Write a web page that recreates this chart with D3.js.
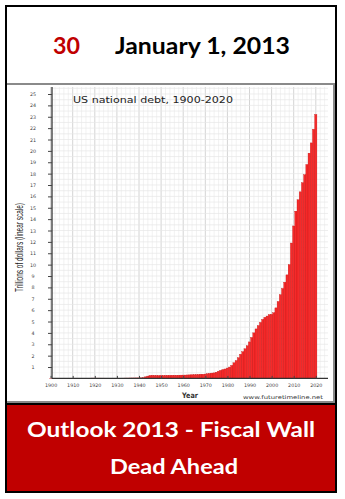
<!DOCTYPE html>
<html><head><meta charset="utf-8">
<script src="https://cdn.jsdelivr.net/npm/d3@7"></script>
<style>html,body{margin:0;padding:0;background:#fff;}svg{display:block;}</style>
</head><body>
<script>
// ---- data ----
const years = [
 1900,1901,1902,1903,1904,1905,1906,1907,1908,1909,
 1910,1911,1912,1913,1914,1915,1916,1917,1918,1919,
 1920,1921,1922,1923,1924,1925,1926,1927,1928,1929,
 1930,1931,1932,1933,1934,1935,1936,1937,1938,1939,
 1940,1941,1942,1943,1944,1945,1946,1947,1948,1949,
 1950,1951,1952,1953,1954,1955,1956,1957,1958,1959,
 1960,1961,1962,1963,1964,1965,1966,1967,1968,1969,
 1970,1971,1972,1973,1974,1975,1976,1977,1978,1979,
 1980,1981,1982,1983,1984,1985,1986,1987,1988,1989,
 1990,1991,1992,1993,1994,1995,1996,1997,1998,1999,
 2000,2001,2002,2003,2004,2005,2006,2007,2008,2009,
 2010,2011,2012,2013,2014,2015,2016,2017,2018,2019,2020];
// US national debt, trillions of dollars
const debt = [
 0.0021,0.0021,0.0022,0.0022,0.0023,0.0023,0.0023,0.0025,0.0026,0.0026,
 0.0027,0.0028,0.0028,0.0029,0.0029,0.0031,0.0036,0.0057,0.0146,0.0274,
 0.0259,0.0239,0.0229,0.0223,0.0212,0.0205,0.0196,0.0185,0.0176,0.0169,
 0.0161,0.0168,0.0194,0.0225,0.027,0.0287,0.0338,0.0364,0.0372,0.0404,
 0.043,0.049,0.0724,0.1367,0.201,0.2587,0.2694,0.2583,0.2523,0.2528,
 0.2574,0.2552,0.259,0.2661,0.2711,0.2743,0.2726,0.2721,0.2798,0.2875,
 0.2906,0.2929,0.3029,0.3101,0.3166,0.3222,0.3284,0.3403,0.3681,0.3656,
 0.3807,0.4081,0.4357,0.4663,0.4839,0.5419,0.6287,0.7063,0.7767,0.8293,
 0.9091,0.9949,1.137,1.372,1.565,1.817,2.121,2.346,2.601,2.868,
 3.206,3.598,4.002,4.351,4.643,4.921,5.181,5.369,5.478,5.606,
 5.629,5.770,6.198,6.760,7.355,7.905,8.451,9.1,10.0,11.9,
 13.4,14.7,15.7,16.4,17.2,17.9,18.8,19.8,20.7,21.9,23.2];
const yTicks = [1,2,3,4,5,6,7,8,9,10,11,12,13,14,15,16,17,18,19,20,21,22,23,24,25];
const xTicks = [1900,1910,1920,1930,1940,1950,1960,1970,1980,1990,2000,2010,2020];
const dayNumber = "30";
const dateText = "January 1, 2013";
const chartTitle = "US national debt, 1900-2020";
const yTitle = "Trillions of dollars (linear scale)";
const xTitle = "Year";
const sourceText = "www.futuretimeline.net";
const footer1 = "Outlook 2013 - Fiscal Wall";
const footer2 = "Dead Ahead";

// ---- drawing ----
const W = 345, H = 499;
const svg = d3.select("body").append("svg").attr("width", W).attr("height", H);
svg.append("rect").attr("width", W).attr("height", H).attr("fill", "#fff");

const x = d3.scaleLinear().domain([1900, 2020]).range([50.6, 315.8]);
const y = d3.scaleLinear().domain([0, 25]).range([378.4, 94]);
const plotL = 52, plotR = 328, plotT = 87, plotB = y(0);

// chart frame (gray)
svg.append("path").attr("d", `M7,84H335M334,84V402M7,402H335`)
  .attr("stroke", "#8a8a8a").attr("stroke-width", 2).attr("fill", "none");

// grid
const g = svg.append("g");
const minorX = d3.range(1900, 2026, 2);
g.selectAll("line.vx").data(minorX).join("line")
  .attr("x1", d => x(d)).attr("x2", d => x(d)).attr("y1", plotT).attr("y2", plotB)
  .attr("stroke", d => d % 10 === 0 ? "#d4d4d4" : "#ececec").attr("stroke-width", d => d % 10 === 0 ? 1 : 0.7);
const minorY = d3.range(0.5, 25.6, 0.5);
g.selectAll("line.hy").data(minorY).join("line")
  .attr("x1", plotL).attr("x2", plotR).attr("y1", d => y(d)).attr("y2", d => y(d))
  .attr("stroke", "#e6e6e6").attr("stroke-width", 0.7);

// bars
const bw = (x(1901) - x(1900));
svg.append("g").selectAll("rect").data(years.map((yr, i) => ({yr, v: debt[i]}))).join("rect")
  .attr("x", d => x(d.yr) - bw / 2).attr("width", bw)
  .attr("y", d => y(d.v)).attr("height", d => plotB - y(d.v))
  .attr("fill", "#f52a2a").attr("stroke", "#c41010").attr("stroke-width", 0.35);

// axes
const yAxis = svg.append("g").attr("transform", `translate(${plotL},0)`)
  .call(d3.axisLeft(y).tickValues(yTicks).tickSize(4).tickPadding(0).tickFormat(d3.format("d")));
yAxis.select(".domain").attr("d", `M0,${plotT}V${plotB}`).attr("stroke", "#333").attr("stroke-width", 1.3);
yAxis.selectAll(".tick line").attr("stroke", "#444");
yAxis.selectAll(".tick text").attr("x", -19).attr("text-anchor", "middle")
  .attr("font-family", "DejaVu Sans").attr("font-size", 4.8).attr("fill", "#444");

const xAxis = svg.append("g").attr("transform", `translate(0,${plotB})`)
  .call(d3.axisBottom(x).tickValues(xTicks).tickSize(-2.5).tickPadding(5).tickFormat(d3.format("d")));
xAxis.select(".domain").attr("d", `M${plotL},0H${plotR}`).attr("stroke", "#333").attr("stroke-width", 1.3);
xAxis.selectAll(".tick line").attr("stroke", "#444");
xAxis.selectAll(".tick text").attr("font-family", "DejaVu Sans").attr("font-size", 4.8).attr("fill", "#444");

// chart texts
svg.append("text").attr("x", 73).attr("y", 103).text(chartTitle)
  .attr("font-family", "DejaVu Sans").attr("font-size", 9).attr("fill", "#222")
  .attr("textLength", 160).attr("lengthAdjust", "spacingAndGlyphs");
svg.append("text").attr("transform", "translate(22.5,247.5) rotate(-90)").attr("text-anchor", "middle")
  .text(yTitle).attr("font-family", "Liberation Sans").attr("font-size", 10.5).attr("fill", "#222")
  .attr("textLength", 89).attr("lengthAdjust", "spacingAndGlyphs");
svg.append("text").attr("x", 190).attr("y", 397.5).attr("text-anchor", "middle").text(xTitle)
  .attr("font-family", "DejaVu Sans").attr("font-size", 7.5).attr("font-weight", "bold").attr("fill", "#333")
  .attr("textLength", 16).attr("lengthAdjust", "spacingAndGlyphs");
svg.append("text").attr("x", 243).attr("y", 399).text(sourceText)
  .attr("font-family", "DejaVu Sans").attr("font-size", 5.2).attr("fill", "#333")
  .attr("textLength", 80).attr("lengthAdjust", "spacingAndGlyphs");

// header
svg.append("text").attr("x", 53).attr("y", 54).text(dayNumber)
  .attr("font-family", "Lato").attr("font-weight", "bold").attr("font-size", 22).attr("fill", "#c00000")
  .attr("textLength", 27).attr("lengthAdjust", "spacingAndGlyphs");
svg.append("text").attr("x", 115).attr("y", 54).text(dateText)
  .attr("font-family", "Lato").attr("font-weight", "bold").attr("font-size", 22).attr("fill", "#000")
  .attr("textLength", 175).attr("lengthAdjust", "spacingAndGlyphs");

// footer red box
svg.append("rect").attr("x", 6).attr("y", 404).attr("width", 330).attr("height", 88)
  .attr("fill", "#c00000").attr("stroke", "#000").attr("stroke-width", 2);
svg.append("text").attr("x", 171).attr("y", 437).attr("text-anchor", "middle").text(footer1)
  .attr("font-family", "Lato").attr("font-weight", "bold").attr("font-size", 20).attr("fill", "#fff")
  .attr("textLength", 288).attr("lengthAdjust", "spacingAndGlyphs");
svg.append("text").attr("x", 174).attr("y", 474).attr("text-anchor", "middle").text(footer2)
  .attr("font-family", "Lato").attr("font-weight", "bold").attr("font-size", 20).attr("fill", "#fff")
  .attr("textLength", 128).attr("lengthAdjust", "spacingAndGlyphs");

// outer border
svg.append("rect").attr("x", 6).attr("y", 6).attr("width", 330).attr("height", 486)
  .attr("fill", "none").attr("stroke", "#000").attr("stroke-width", 2);
</script>
</body></html>
